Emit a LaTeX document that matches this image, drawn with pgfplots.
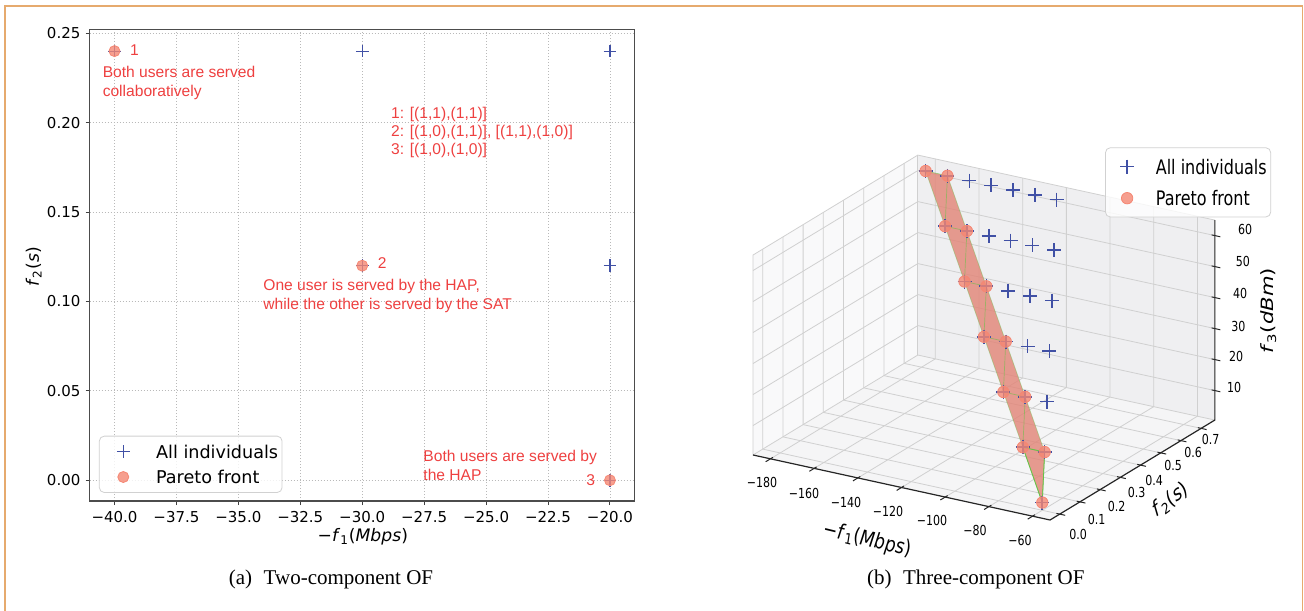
\documentclass[border=0pt]{standalone}
\usepackage{fontspec}
\setmainfont{DejaVu Sans}
\newfontfamily\capfont{Liberation Serif}
\newfontfamily\annfont{Liberation Sans}
\newfontfamily\condfont{DejaVu Sans}[FakeStretch=0.8]
\usepackage{pgfplots}
\pgfplotsset{compat=1.18}
\definecolor{myblue}{RGB}{64,80,165}
\definecolor{mysalmon}{RGB}{245,135,115}
\definecolor{myred}{RGB}{238,64,64}
\definecolor{frameor}{RGB}{230,170,110}
\definecolor{bandfill}{RGB}{226,132,118}
\definecolor{edgegreen}{RGB}{100,195,70}
\definecolor{paneX}{RGB}{249,249,250}
\definecolor{paneY}{RGB}{239,239,241}
\definecolor{paneZ}{RGB}{245,245,246}
\definecolor{gridc}{RGB}{208,208,208}
\definecolor{grid2}{RGB}{185,185,185}
\pgfplotsset{
  limgA/.style={legend image code/.code={\path[draw=none,fill=none] (0pt,-1pt) rectangle (20pt,1pt); \draw[##1] plot coordinates {(10pt,0pt)};}},
  limgB/.style={legend image code/.code={\path[draw=none,fill=none] (0pt,-1pt) rectangle (17.7pt,1pt); \draw[##1] plot coordinates {(8.85pt,0pt)};}},
}
\tikzset{
  tl3/.style={font=\fontsize{6.9}{8}\selectfont, inner sep=0pt, anchor=center, xscale=0.8},
  al3/.style={font=\fontsize{10.6}{12}\selectfont, inner sep=0pt, anchor=center, xscale=0.8},
  ann/.style={myred, inner sep=0pt, align=left, font=\annfont\fontsize{7.8}{9.4}\selectfont},
}
\begin{document}
\begin{tikzpicture}
\useasboundingbox (0,0) rectangle (652pt,305pt);
\draw[frameor, line width=0.75pt] (2.4pt,-2pt) -- (2.4pt,302pt) -- (651.35pt,302pt) -- (651.35pt,-2pt);

% ---------------- (a) two-component OF ----------------
\begin{axis}[
  at={(44.8pt,54.5pt)}, anchor=south west, scale only axis,
  width=272.55pt, height=235.85pt,
  xmin=-41.005, xmax=-19, ymin=-0.0116, ymax=0.2522,
  xtick={-40,-37.5,-35,-32.5,-30,-27.5,-25,-22.5,-20},
  xticklabels={−40.0,−37.5,−35.0,−32.5,−30.0,−27.5,−25.0,−22.5,−20.0},
  ytick={0,0.05,0.1,0.15,0.2,0.25},
  yticklabels={0.00,0.05,0.10,0.15,0.20,0.25},
  tick align=outside, tick pos=left, major tick length=2pt,
  tick style={black!75, line width=0.5pt},
  axis line style={black!70, line width=0.6pt},
  grid=major, grid style={grid2, dash pattern=on 0.6pt off 0.9pt, line width=0.4pt},
  ticklabel style={font=\fontsize{7.5}{9}\selectfont, inner sep=0pt},
  xticklabel style={yshift=-2.75pt},
  yticklabel style={xshift=-2.4pt},
  xlabel={−\textit{f}\textsubscript{1}(\textit{Mbps})},
  ylabel={\textit{f}\textsubscript{2}(\textit{s})},
  xlabel style={at={(axis description cs:0.5012,-0.0757)}, anchor=center, inner sep=0pt, font=\fontsize{8.6}{10}\selectfont},
  ylabel style={at={(axis description cs:-0.1026,0.4967)}, anchor=center, inner sep=0pt, font=\fontsize{8.6}{10}\selectfont},
  legend style={at={(axis description cs:0.01706,0.1384)}, anchor=north west,
    draw=black!18, rounded corners=2.5pt, fill=white, fill opacity=0.8, text opacity=1,
    inner xsep=2pt, inner ysep=4.4pt, row sep=6pt, column sep=6.4pt,
    font=\fontsize{8.8}{11}\selectfont,
    nodes={inner sep=0pt, text height=6.7pt, text depth=0pt}},
  legend cell align=left,
  clip=false,
]
\addplot[only marks, mark=+, mark size=3.15pt, color=myblue, mark options={draw=myblue}, line width=0.6pt, limgA]
  coordinates {(-40,0.24) (-30,0.24) (-20,0.24) (-30,0.12) (-20,0.12) (-20,0)};
\addlegendentry{All individuals}
\addplot[only marks, mark=*, mark size=2.75pt, color=mysalmon, mark options={draw=none, fill=mysalmon, fill opacity=0.8}, limgA]
  coordinates {(-40,0.24) (-30,0.12) (-20,0)};
\addlegendentry{Pareto front}

\node[ann, anchor=base west] at (axis cs:-39.39,0.2376) {1};
\node[ann, anchor=north west] at (axis cs:-40.49,0.2319) {Both users are served\\collaboratively};
\node[ann, anchor=north west, font=\annfont\fontsize{7.8}{9.1}\selectfont] at (axis cs:-28.85,0.2091) {1: [(1,1),(1,1)]\\2: [(1,0),(1,1)], [(1,1),(1,0)]\\3: [(1,0),(1,0)]};
\node[ann, anchor=base west] at (axis cs:-29.38,0.1183) {2};
\node[ann, anchor=north west] at (axis cs:-34.005,0.1126) {One user is served by the HAP,\\while the other is served by the SAT};
\node[ann, anchor=north west] at (axis cs:-27.545,0.01695) {Both users are served by\\the HAP};
\node[ann, anchor=base west] at (axis cs:-20.97,-0.003) {3};
\end{axis}

% ---------------- (b) three-component OF ----------------
\begin{axis}[
  at={(376.5pt,45pt)}, anchor=south west,
  x={(1.092pt,-0.239pt)}, y={(101pt,61.25pt)}, z={(0pt,1.55pt)},
  xmin=-188, xmax=-52, ymin=-0.048, ymax=0.768, zmin=0.5, zmax=65,
  hide axis, clip=false,
]
% panes
\fill[paneZ] (axis cs:-188,-0.048,0.5) -- (axis cs:-52,-0.048,0.5) -- (axis cs:-52,0.768,0.5) -- (axis cs:-188,0.768,0.5) -- cycle;
\fill[paneX] (axis cs:-188,-0.048,0.5) -- (axis cs:-188,0.768,0.5) -- (axis cs:-188,0.768,65) -- (axis cs:-188,-0.048,65) -- cycle;
\fill[paneY] (axis cs:-188,0.768,0.5) -- (axis cs:-52,0.768,0.5) -- (axis cs:-52,0.768,65) -- (axis cs:-188,0.768,65) -- cycle;
% grid
\pgfplotsinvokeforeach{-180,-160,-140,-120,-100,-80,-60}{
  \draw[gridc, line width=0.4pt] (axis cs:#1,-0.048,0.5) -- (axis cs:#1,0.768,0.5) -- (axis cs:#1,0.768,65);
}
\pgfplotsinvokeforeach{0,0.1,0.2,0.3,0.4,0.5,0.6,0.7}{
  \draw[gridc, line width=0.4pt] (axis cs:-52,#1,0.5) -- (axis cs:-188,#1,0.5) -- (axis cs:-188,#1,65);
}
\pgfplotsinvokeforeach{10,20,30,40,50,60}{
  \draw[gridc, line width=0.4pt] (axis cs:-188,-0.048,#1) -- (axis cs:-188,0.768,#1) -- (axis cs:-52,0.768,#1);
}
\draw[gridc, line width=0.4pt] (axis cs:-188,-0.048,0.5) -- (axis cs:-188,-0.048,65) -- (axis cs:-188,0.768,65) -- (axis cs:-52,0.768,65);
\draw[gridc, line width=0.4pt] (axis cs:-188,-0.048,0.5) -- (axis cs:-188,0.768,0.5) -- (axis cs:-52,0.768,0.5);
\draw[gridc, line width=0.4pt] (axis cs:-188,0.768,0.5) -- (axis cs:-188,0.768,65);
% axis lines
\draw[black!85, line width=0.6pt] (axis cs:-188,-0.048,0.5) -- (axis cs:-52,-0.048,0.5) -- (axis cs:-52,0.768,0.5) -- (axis cs:-52,0.768,65);
% ticks
\pgfplotsinvokeforeach{-180,-160,-140,-120,-100,-80,-60}{
  \draw[black!85, line width=0.5pt] (axis cs:#1,-0.036,0.5) -- (axis cs:#1,-0.072,0.5);
}
\pgfplotsinvokeforeach{0,0.1,0.2,0.3,0.4,0.5,0.6,0.7}{
  \draw[black!85, line width=0.5pt] (axis cs:-53.5,#1,0.5) -- (axis cs:-49.5,#1,0.5);
}
\pgfplotsinvokeforeach{10,20,30,40,50,60}{
  \draw[black!85, line width=0.5pt] (axis cs:-53.5,0.768,#1) -- (axis cs:-49.5,0.768,#1);
}
% tick labels
\node[xshift=-4.25pt, yshift=-11.95pt, tl3] at (axis cs:-180,-0.048,0.5) {−180};
\node[xshift=-5.1pt, yshift=-12.3pt, tl3] at (axis cs:-160,-0.048,0.5) {−160};
\node[xshift=-5.9pt, yshift=-12.05pt, tl3] at (axis cs:-140,-0.048,0.5) {−140};
\node[xshift=-6.75pt, yshift=-12pt, tl3] at (axis cs:-120,-0.048,0.5) {−120};
\node[xshift=-6.6pt, yshift=-11.8pt, tl3] at (axis cs:-100,-0.048,0.5) {−100};
\node[xshift=-6.95pt, yshift=-11.95pt, tl3] at (axis cs:-80,-0.048,0.5) {−80};
\node[xshift=-6.3pt, yshift=-11.9pt, tl3] at (axis cs:-60,-0.048,0.5) {−60};
\node[xshift=9.15pt, yshift=-9.95pt, tl3] at (axis cs:-52,0,0.5) {0.0};
\node[xshift=8.4pt, yshift=-9.05pt, tl3] at (axis cs:-52,0.1,0.5) {0.1};
\node[xshift=8.3pt, yshift=-8.55pt, tl3] at (axis cs:-52,0.2,0.5) {0.2};
\node[xshift=8.2pt, yshift=-7.65pt, tl3] at (axis cs:-52,0.3,0.5) {0.3};
\node[xshift=6.75pt, yshift=-7.45pt, tl3] at (axis cs:-52,0.4,0.5) {0.4};
\node[xshift=6.15pt, yshift=-6.55pt, tl3] at (axis cs:-52,0.5,0.5) {0.5};
\node[xshift=6.05pt, yshift=-6.05pt, tl3] at (axis cs:-52,0.6,0.5) {0.6};
\node[xshift=4.8pt, yshift=-5.8pt, tl3] at (axis cs:-52,0.7,0.5) {0.7};
\node[xshift=9.6pt, yshift=1.6pt, tl3] at (axis cs:-52,0.768,10) {10};
\node[xshift=10.6pt, yshift=1.4pt, tl3] at (axis cs:-52,0.768,20) {20};
\node[xshift=11.75pt, yshift=1.3pt, tl3] at (axis cs:-52,0.768,30) {30};
\node[xshift=12.6pt, yshift=2.1pt, tl3] at (axis cs:-52,0.768,40) {40};
\node[xshift=13.95pt, yshift=2.4pt, tl3] at (axis cs:-52,0.768,50) {50};
\node[xshift=15.1pt, yshift=3.1pt, tl3] at (axis cs:-52,0.768,60) {60};
% axis labels
\node[xshift=-17.25pt, yshift=-26.25pt, al3, rotate=-11] at (axis cs:-120,-0.048,0.5) {−\textit{f}\textsubscript{1}(\textit{Mbps})};
\node[xshift=19pt, yshift=-15pt, al3, rotate=31] at (axis cs:-52,0.36,0.5) {\textit{f}\textsubscript{2}(\textit{s})};
\node[xshift=26.75pt, yshift=4.6pt, al3, rotate=90] at (axis cs:-52,0.768,32.75) {\textit{f}\textsubscript{3}(\textit{dBm})};
% Pareto front surface
\addplot3[fill=bandfill, fill opacity=0.8, draw=none] coordinates {
  (-180,0.72,63) (-160,0.60,53) (-140,0.48,43) (-120,0.36,33) (-100,0.24,23) (-80,0.12,13) (-60,0,3)
  (-70,0.12,13) (-90,0.24,23) (-110,0.36,33) (-130,0.48,43) (-150,0.60,53) (-170,0.72,63)} -- cycle;
\addplot3[edgegreen, line width=0.35pt, opacity=0.55] coordinates {
  (-180,0.72,63) (-170,0.72,63) (-160,0.60,53) (-150,0.60,53) (-140,0.48,43) (-130,0.48,43)
  (-120,0.36,33) (-110,0.36,33) (-100,0.24,23) (-90,0.24,23) (-80,0.12,13) (-70,0.12,13) (-60,0,3)};
\addplot3[edgegreen, line width=0.35pt, opacity=0.4] coordinates {
  (-180,0.72,63) (-160,0.60,53) (-140,0.48,43) (-120,0.36,33) (-100,0.24,23) (-80,0.12,13) (-60,0,3)};
\addplot3[edgegreen, line width=0.35pt, opacity=0.4] coordinates {
  (-170,0.72,63) (-150,0.60,53) (-130,0.48,43) (-110,0.36,33) (-90,0.24,23) (-70,0.12,13)};
\addplot3[edgegreen, line width=0.4pt] coordinates {
  (-80,0.12,13) (-70,0.12,13) (-60,0,3) (-80,0.12,13)};
% all individuals
\addplot3[only marks, mark=+, mark size=3.5pt, color=myblue, line width=0.8pt] coordinates {
  (-180,0.72,63) (-170,0.72,63) (-160,0.72,63) (-150,0.72,63) (-140,0.72,63) (-130,0.72,63) (-120,0.72,63)
  (-160,0.60,53) (-150,0.60,53) (-140,0.60,53) (-130,0.60,53) (-120,0.60,53) (-110,0.60,53)
  (-140,0.48,43) (-130,0.48,43) (-120,0.48,43) (-110,0.48,43) (-100,0.48,43)
  (-120,0.36,33) (-110,0.36,33) (-100,0.36,33) (-90,0.36,33)
  (-100,0.24,23) (-90,0.24,23) (-80,0.24,23)
  (-80,0.12,13) (-70,0.12,13)
  (-60,0,3)};
% Pareto front points
\addplot3[only marks, mark=*, mark size=2.85pt, color=mysalmon, mark options={draw=none, fill=mysalmon, fill opacity=0.8}] coordinates {
  (-180,0.72,63) (-170,0.72,63) (-160,0.60,53) (-150,0.60,53) (-140,0.48,43) (-130,0.48,43)
  (-120,0.36,33) (-110,0.36,33) (-100,0.24,23) (-90,0.24,23) (-80,0.12,13) (-70,0.12,13) (-60,0,3)};
\end{axis}

% legend for (b)
\begin{axis}[
  at={(0pt,0pt)}, anchor=south west, scale only axis, width=652pt, height=305pt,
  xmin=0, xmax=1, ymin=0, ymax=1, hide axis,
  legend style={at={(axis description cs:0.8474,0.7585)}, anchor=north west,
    draw=black!18, rounded corners=2.5pt, fill=white, fill opacity=0.8, text opacity=1,
    inner xsep=2pt, inner ysep=5.6pt, row sep=8.25pt, column sep=5.5pt,
    font=\condfont\fontsize{10}{12}\selectfont,
    nodes={inner sep=0pt, text height=7.6pt, text depth=0pt}},
  legend cell align=left,
]
\addlegendimage{only marks, mark=+, mark size=3.5pt, color=myblue, line width=0.8pt, limgB}
\addlegendentry{All individuals}
\addlegendimage{only marks, mark=*, mark size=2.85pt, color=mysalmon, mark options={draw=none, fill=mysalmon, fill opacity=0.8}, limgB}
\addlegendentry{Pareto front}
\end{axis}

\node[font=\capfont\fontsize{10.5}{12}\selectfont, anchor=base, inner sep=0pt] at (165.5pt,12.6pt) {(a)\hspace{0.3em} Two-component OF};
\node[font=\capfont\fontsize{10.5}{12}\selectfont, anchor=base, inner sep=0pt] at (487.9pt,12.6pt) {(b)\hspace{0.3em} Three-component OF};
\end{tikzpicture}
\end{document}
